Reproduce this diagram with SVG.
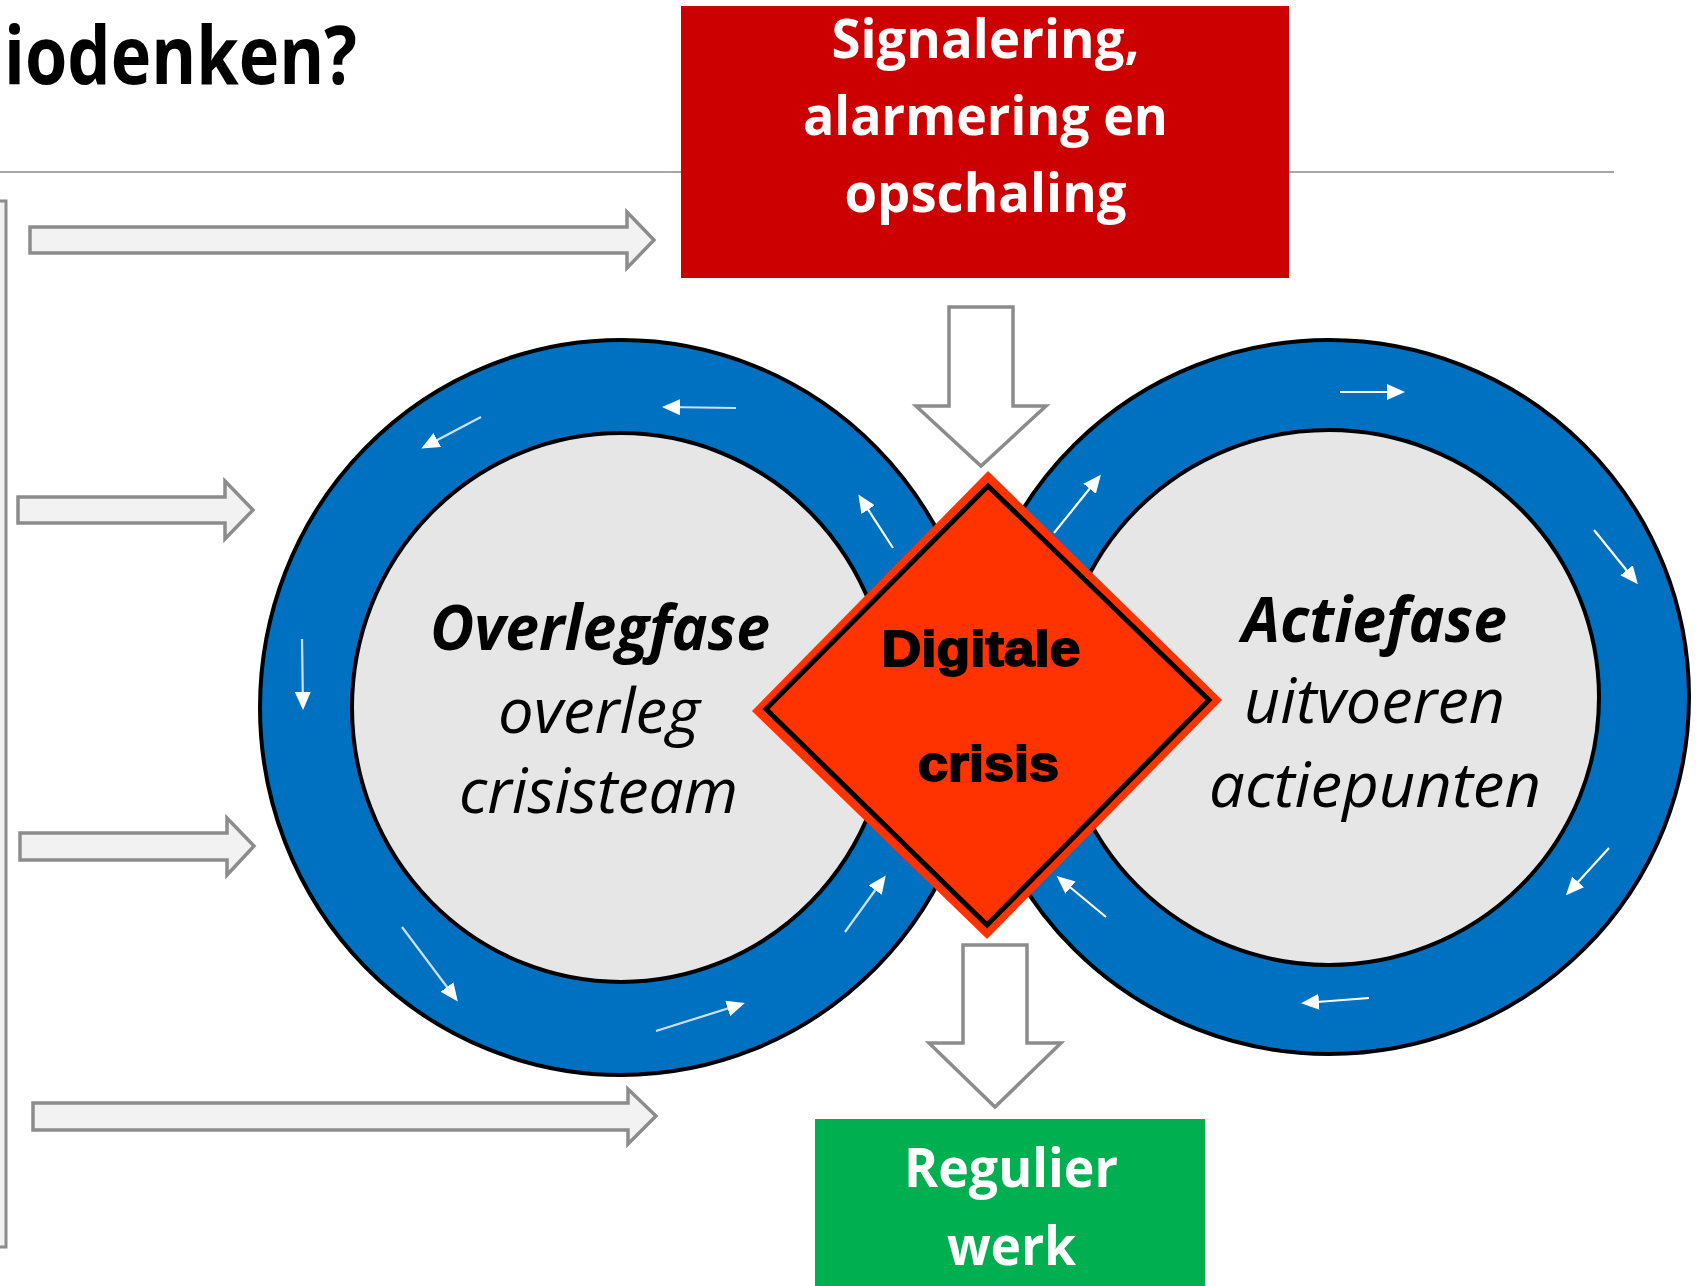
<svg xmlns="http://www.w3.org/2000/svg" width="1703" height="1286" viewBox="0 0 1703 1286">
<style>
.calb{font-family:"Open Sans","Noto Sans","Liberation Sans",sans-serif;font-weight:700}
.cali{font-family:"Open Sans","Noto Sans","Liberation Sans",sans-serif;font-style:italic;font-weight:400}
.calbi{font-family:"Open Sans","Noto Sans","Liberation Sans",sans-serif;font-style:italic;font-weight:700}
.arl{font-family:"Liberation Sans",Arial,sans-serif;font-weight:700}
.blk{fill:#f2f2f2;stroke:#8c8c8c;stroke-width:3.5;stroke-linejoin:miter}
.dwn{fill:#ffffff;stroke:#8c8c8c;stroke-width:3.5;stroke-linejoin:miter}
.outer{fill:#0070c0;stroke:#000;stroke-width:4}
.inner{fill:#e6e6e6;stroke:#000;stroke-width:4}
.ra{stroke:#fff;stroke-width:2.2;fill:none;marker-end:url(#wh)}
.raf{stroke:#fff;stroke-opacity:0.8;stroke-width:2.2;fill:none;marker-end:url(#wh)}
</style>
<defs>
<marker id="wh" markerUnits="userSpaceOnUse" markerWidth="18" markerHeight="16" viewBox="0 0 18 16" refX="15" refY="8" orient="auto">
<path d="M0,0 L18,8 L0,16 z" fill="#fff"/>
</marker>
</defs>
<rect width="1703" height="1286" fill="#fff"/>

<g id="title">
<text class="calb" x="4" y="84" font-size="80" textLength="353" lengthAdjust="spacingAndGlyphs" fill="#000">iodenken?</text>
</g>
<g id="rule">
<line x1="0" y1="172" x2="1614" y2="172" stroke="#a6a6a6" stroke-width="2"/>
</g>
<g id="bracket">
<rect x="-20" y="201" width="26" height="1046" fill="#f2f2f2" stroke="#8c8c8c" stroke-width="3"/>
</g>

<g id="signalering">
<rect x="681" y="6" width="608" height="272" fill="#cc0000"/>
<g class="calb" font-size="53" fill="#fff" text-anchor="middle">
<text x="985.5" y="58" textLength="308" lengthAdjust="spacingAndGlyphs">Signalering,</text>
<text x="985.5" y="135" textLength="365" lengthAdjust="spacingAndGlyphs">alarmering en</text>
<text x="985.5" y="212" textLength="282" lengthAdjust="spacingAndGlyphs">opschaling</text>
</g>
</g>

<g id="connectors">
<polygon class="blk" points="30,227 627,227 627,212 654,240 627,268 627,253 30,253"/>
<polygon class="blk" points="18,497 225,497 225,481 253,510 225,539 225,523 18,523"/>
<polygon class="blk" points="20,833 227,833 227,818 254,846 227,875 227,860 20,860"/>
<polygon class="blk" points="33,1103 628,1103 628,1089 656,1116 628,1144 628,1130 33,1130"/>
<polygon class="dwn" points="949,307 1013,307 1013,406 1046,406 981,466 916,406 949,406"/>
<polygon class="dwn" points="963,945 1027,945 1027,1043 1061,1043 995,1107 929,1043 963,1043"/>
</g>

<g id="overlegfase">
<ellipse class="outer" cx="621" cy="707.5" rx="361" ry="367.5"/>
<ellipse class="inner" cx="621" cy="707.5" rx="269" ry="274.5"/>
<line class="raf" x1="736" y1="408" x2="665" y2="407"/>
<line class="raf" x1="481" y1="417" x2="424" y2="447"/>
<line class="raf" x1="302" y1="639" x2="303" y2="707"/>
<line class="raf" x1="402" y1="927" x2="456" y2="999"/>
<line class="raf" x1="656" y1="1031" x2="742" y2="1004"/>
<line class="raf" x1="845" y1="932" x2="884" y2="878"/>
<line class="ra" x1="893" y1="548" x2="860" y2="497"/>
<g fill="#000" text-anchor="middle" font-size="63">
<text class="calbi" x="600" y="650" textLength="340" lengthAdjust="spacingAndGlyphs">Overlegfase</text>
<text class="cali" x="599" y="733" textLength="202" lengthAdjust="spacingAndGlyphs">overleg</text>
<text class="cali" x="598.5" y="813" textLength="279" lengthAdjust="spacingAndGlyphs">crisisteam</text>
</g>
</g>

<g id="actiefase">
<ellipse class="outer" cx="1329" cy="697" rx="360" ry="357"/>
<ellipse class="inner" cx="1329" cy="697.5" rx="270" ry="267.5"/>
<line class="ra" x1="1340" y1="392" x2="1402" y2="392"/>
<line class="ra" x1="1594" y1="530" x2="1636" y2="582"/>
<line class="ra" x1="1609" y1="848" x2="1568" y2="893"/>
<line class="ra" x1="1369" y1="998" x2="1304" y2="1003"/>
<line class="ra" x1="1106" y1="917" x2="1059" y2="878"/>
<line class="ra" x1="1054" y1="533" x2="1099" y2="477"/>
<g fill="#000" text-anchor="middle" font-size="63">
<text class="calbi" x="1374.5" y="642" textLength="265" lengthAdjust="spacingAndGlyphs">Actiefase</text>
<text class="cali" x="1374.5" y="723" textLength="261" lengthAdjust="spacingAndGlyphs">uitvoeren</text>
<text class="cali" x="1375" y="807" textLength="332" lengthAdjust="spacingAndGlyphs">actiepunten</text>
</g>
</g>

<g id="digitale-crisis">
<polygon points="988,471 1222,700 987,939 752,711" fill="#ff3300"/>
<polygon points="988,486 1209,700 987,925 766,709" fill="none" stroke="#000" stroke-width="5" stroke-linejoin="miter"/>
<g class="arl" font-size="50" fill="#000" stroke="#000" stroke-width="1.8" text-anchor="middle">
<text x="981" y="666" textLength="199" lengthAdjust="spacingAndGlyphs">Digitale</text>
<text x="988.5" y="781" textLength="141" lengthAdjust="spacingAndGlyphs">crisis</text>
</g>
</g>

<g id="regulier-werk">
<rect x="815" y="1119" width="390" height="172" fill="#00b050"/>
<g class="calb" font-size="54" fill="#fff" text-anchor="middle">
<text x="1011" y="1187" textLength="214" lengthAdjust="spacingAndGlyphs">Regulier</text>
<text x="1011.5" y="1265" textLength="129" lengthAdjust="spacingAndGlyphs">werk</text>
</g>
</g>
</svg>
